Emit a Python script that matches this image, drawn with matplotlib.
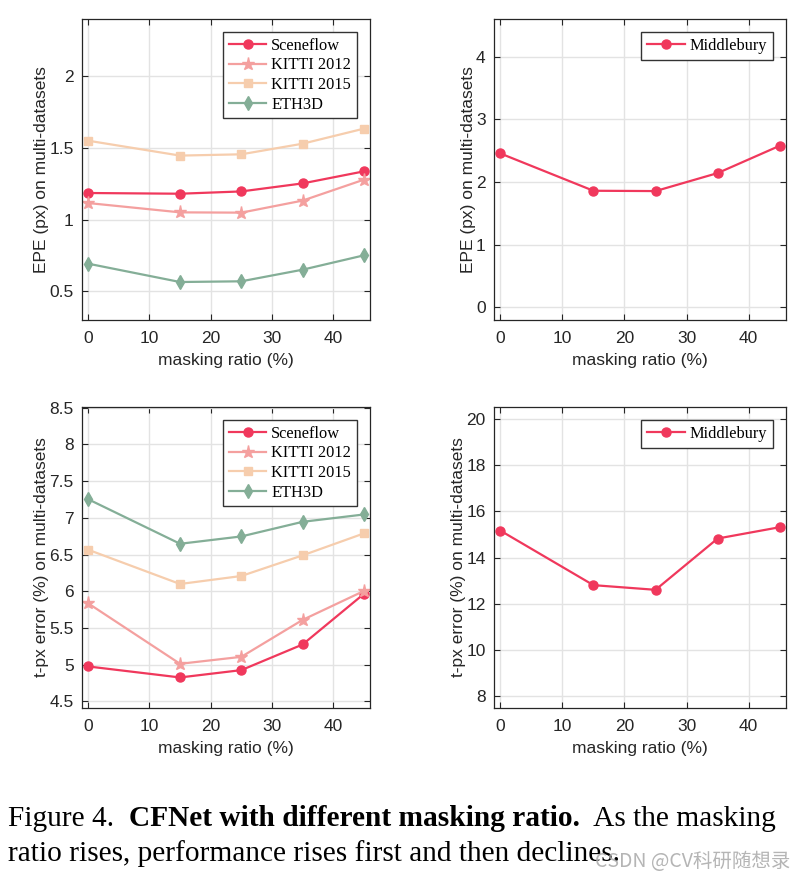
import matplotlib
matplotlib.use("Agg")
import matplotlib.pyplot as plt
from matplotlib.ticker import FuncFormatter

# ---------------- data ----------------
ratios = [0, 15, 25, 35, 45]

epe_sceneflow = [1.186, 1.181, 1.197, 1.253, 1.337]
epe_kitti2012 = [1.116, 1.051, 1.049, 1.133, 1.279]
epe_kitti2015 = [1.551, 1.447, 1.456, 1.530, 1.635]
epe_eth3d = [0.693, 0.565, 0.570, 0.651, 0.751]
epe_middlebury = [2.457, 1.861, 1.856, 2.143, 2.579]

tpx_sceneflow = [4.976, 4.826, 4.926, 5.275, 5.964]
tpx_kitti2012 = [5.836, 5.012, 5.107, 5.610, 6.004]
tpx_kitti2015 = [6.566, 6.099, 6.208, 6.489, 6.788]
tpx_eth3d = [7.254, 6.647, 6.747, 6.946, 7.046]
tpx_middlebury = [15.165, 12.806, 12.604, 14.820, 15.309]

series_names = ["Sceneflow", "KITTI 2012", "KITTI 2015", "ETH3D"]
x_ticks = [0, 10, 20, 30, 40]

# ---------------- style ----------------
C_SF = "#F0385C"
C_K12 = "#F4A09F"
C_K15 = "#F6CDAD"
C_ETH = "#84AE97"
C_MID = "#F0385C"

styles = [
    dict(color=C_SF, marker="o", ms=6.5),
    dict(color=C_K12, marker="*", ms=9.5),
    dict(color=C_K15, marker="s", ms=5.5),
    dict(color=C_ETH, marker="d", ms=7.5),
]

SANS = ["Liberation Sans", "DejaVu Sans"]
SERIF = ["Liberation Serif", "DejaVu Serif"]

fig = plt.figure(figsize=(8.05, 8.80), dpi=100)
W, H = 805.0, 880.0


def ax_at(left, top, right, bottom):
    return fig.add_axes([left / W, 1 - bottom / H, (right - left) / W, (bottom - top) / H])


def fmt(v, pos):
    return "%g" % round(v, 3)


def style_axes(ax, ylim, yticks, ylabel):
    ax.set_xlim(-1, 46)
    ax.set_ylim(*ylim)
    ax.set_xticks(x_ticks)
    ax.set_yticks(yticks)
    ax.yaxis.set_major_formatter(FuncFormatter(fmt))
    ax.grid(True, color="#E3E3E3", linewidth=1.0)
    ax.set_axisbelow(True)
    ax.tick_params(direction="in", top=True, right=True, length=4, width=0.8,
                   color="#262626", labelsize=12.5, labelcolor="#262626")
    ax.tick_params(axis="x", pad=8)
    ax.tick_params(axis="y", pad=6)
    for lab in ax.get_xticklabels() + ax.get_yticklabels():
        lab.set_family(SANS)
    for sp in ax.spines.values():
        sp.set_color("#262626")
        sp.set_linewidth(0.9)
    ax.set_xlabel("masking ratio (%)", family=SANS, fontsize=12.5, color="#262626", labelpad=5)
    ax.set_ylabel(ylabel, family=SANS, fontsize=12.5, color="#262626", labelpad=0)


def legend(ax):
    leg = ax.legend(loc="upper right", prop={"family": SERIF, "size": 11.8},
                    frameon=True, fancybox=False, edgecolor="#333333",
                    framealpha=1, handlelength=2.3, handletextpad=0.3,
                    labelspacing=0.22, borderpad=0.35, borderaxespad=0.8)
    leg.get_frame().set_linewidth(1.0)
    return leg


# ---- top-left ----
ax1 = ax_at(82, 19, 370, 320)
for name, ys, st in zip(series_names, [epe_sceneflow, epe_kitti2012, epe_kitti2015, epe_eth3d], styles):
    ax1.plot(ratios, ys, color=st["color"], marker=st["marker"], markersize=st["ms"],
             linewidth=1.6, label=name, markeredgecolor=st["color"])
style_axes(ax1, (0.3, 2.4), [0.5, 1, 1.5, 2], "EPE (px) on multi-datasets")
legend(ax1)

# ---- top-right ----
ax2 = ax_at(494, 19, 786, 320)
ax2.plot(ratios, epe_middlebury, color=C_MID, marker="o", markersize=6.5, linewidth=1.6,
         label="Middlebury")
style_axes(ax2, (-0.2, 4.6), [0, 1, 2, 3, 4], "EPE (px) on multi-datasets")
legend(ax2)

# ---- bottom-left ----
ax3 = ax_at(82, 407, 370, 708)
for name, ys, st in zip(series_names, [tpx_sceneflow, tpx_kitti2012, tpx_kitti2015, tpx_eth3d], styles):
    ax3.plot(ratios, ys, color=st["color"], marker=st["marker"], markersize=st["ms"],
             linewidth=1.6, label=name, markeredgecolor=st["color"])
style_axes(ax3, (4.41, 8.51), [4.5, 5, 5.5, 6, 6.5, 7, 7.5, 8, 8.5], "t-px error (%) on multi-datasets")
legend(ax3)

# ---- bottom-right ----
ax4 = ax_at(494, 407, 786, 708)
ax4.plot(ratios, tpx_middlebury, color=C_MID, marker="o", markersize=6.5, linewidth=1.6,
         label="Middlebury")
style_axes(ax4, (7.5, 20.5), [8, 10, 12, 14, 16, 18, 20], "t-px error (%) on multi-datasets")
legend(ax4)

# ---------------- caption ----------------
fig.canvas.draw()
renderer = fig.canvas.get_renderer()
CAP_SIZE = 21.2


def put_pieces(pieces, x_px, y_px):
    x = x_px
    for txt, weight in pieces:
        t = fig.text(x / W, 1 - y_px / H, txt, family=SERIF, fontsize=CAP_SIZE,
                     weight=weight, color="black", va="baseline", ha="left")
        bb = t.get_window_extent(renderer=renderer)
        x += bb.width
    return x


put_pieces([("Figure 4.  ", "normal"), ("CFNet with different masking ratio.", "bold"),
            ("  As the masking", "normal")], 8, 826)
put_pieces([("ratio rises, performance rises first and then declines.", "normal")], 8, 861)

fig.text(595 / W, 1 - 867 / H, "CSDN @CV科研随想录", family=["Noto Sans CJK SC", "DejaVu Sans"],
         fontsize=14, color="#A8A8A8", alpha=0.85, va="baseline", ha="left")

fig.savefig("out.png", dpi=100)
